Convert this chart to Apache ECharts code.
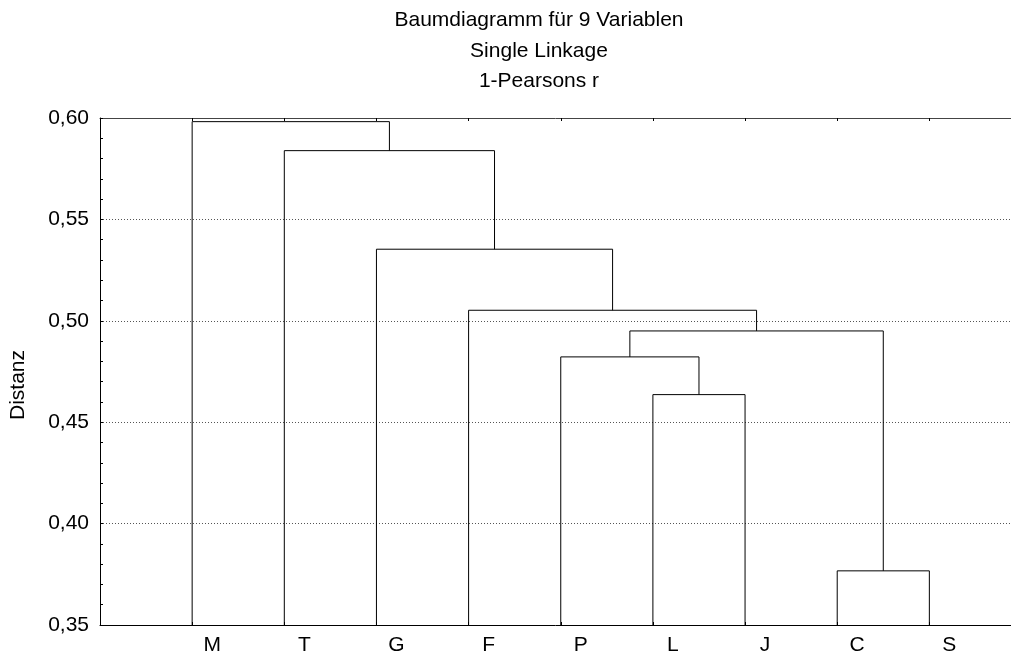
<!DOCTYPE html>
<html>
<head>
<meta charset="utf-8">
<script src="https://cdn.jsdelivr.net/npm/echarts@6/dist/echarts.min.js"></script>
<style>
html,body{margin:0;padding:0;background:#fff;}
#chart{width:1011px;height:659px;}
</style>
</head>
<body>
<div id="chart"></div>
<script>
// Leaves in dendrogram order
const leaves = ['M', 'T', 'G', 'F', 'P', 'L', 'J', 'C', 'S'];
// Merges: node indices (0..8 leaves, 9+ = merge k as node 9+k)
const mergeLeft   = [5, 4, 7, 10, 3, 2, 1, 0];
const mergeRight  = [6, 9, 8, 11, 12, 13, 14, 15];
const mergeHeight = [0.4636, 0.4822, 0.3767, 0.4950, 0.5052, 0.5353, 0.5839, 0.5982];
const titleLines = ['Baumdiagramm für 9 Variablen', 'Single Linkage', '1-Pearsons r'];
const yAxisName = 'Distanz';
const yMin = 0.35, yMax = 0.60, yStep = 0.05;

// Build node positions
const nodeX = leaves.map((_, i) => i + 1);
const nodeH = leaves.map(() => yMin);
const segs = [];
for (let k = 0; k < mergeHeight.length; k++) {
  const a = mergeLeft[k], b = mergeRight[k], h = mergeHeight[k];
  segs.push({
    coords: [[nodeX[a], nodeH[a]], [nodeX[a], h], [nodeX[b], h], [nodeX[b], nodeH[b]]]
  });
  nodeX.push((nodeX[a] + nodeX[b]) / 2);
  nodeH.push(h);
}

const FONT = '"Liberation Sans", Arial, sans-serif';
// visible part of the x range (the original plot is cut at the right edge)
const xMin = 0, xMax = 9.886;

const chart = echarts.init(document.getElementById('chart'), null, {renderer: 'canvas'});
chart.setOption({
  animation: false,
  backgroundColor: '#fff',
  grid: {left: 100, top: 118, right: 0, height: 507, containLabel: false},
  graphic: [
    ...titleLines.map((t, i) => ({
      type: 'text', x: 539, y: 20.5 + i * 30.5, silent: true,
      style: {text: t, fontSize: 21, fontFamily: FONT, fill: '#000', align: 'center', verticalAlign: 'middle'}
    })),
    {
      type: 'text', x: 18, y: 385, rotation: Math.PI / 2, silent: true,
      style: {text: yAxisName, fontSize: 21, fontFamily: FONT, fill: '#000', align: 'center', verticalAlign: 'middle'}
    }
  ],
  xAxis: [{
    type: 'value', position: 'bottom', min: xMin, max: xMax, interval: 1,
    axisLine: {show: true, lineStyle: {color: '#000', width: 1}},
    axisTick: {show: true, inside: true, length: 3, lineStyle: {color: '#000'}},
    splitLine: {show: false},
    axisLabel: {
      show: true, margin: 10, fontSize: 21, fontFamily: FONT, color: '#000',
      padding: [0, 0, 0, 40], showMaxLabel: false,
      formatter: v => (Math.abs(v - Math.round(v)) < 1e-6 ? (leaves[Math.round(v) - 1] || '') : '')
    }
  }, {
    type: 'value', position: 'top', min: xMin, max: xMax, interval: 1,
    axisLine: {show: true, onZero: false, lineStyle: {color: '#444', width: 1}},
    axisTick: {show: true, inside: true, length: 3, lineStyle: {color: '#000'}},
    splitLine: {show: false},
    axisLabel: {show: false}
  }],
  yAxis: {
    type: 'value', min: yMin, max: yMax, interval: yStep,
    axisLine: {show: true, lineStyle: {color: '#000', width: 1}},
    axisTick: {show: true, inside: true, length: 3, lineStyle: {color: '#000'}},
    minorTick: {show: true, splitNumber: 5, length: 3, lineStyle: {color: '#000'}},
    splitLine: {show: true, lineStyle: {color: '#555', width: 1, type: [1, 2]}},
    axisLabel: {
      margin: 11, fontSize: 21, fontFamily: FONT, color: '#000',
      formatter: v => v.toFixed(2).replace('.', ',')
    }
  },
  series: [{
    type: 'lines',
    coordinateSystem: 'cartesian2d',
    polyline: true,
    silent: true,
    lineStyle: {color: '#000', width: 1, opacity: 1},
    data: segs
  }]
});
</script>
</body>
</html>
